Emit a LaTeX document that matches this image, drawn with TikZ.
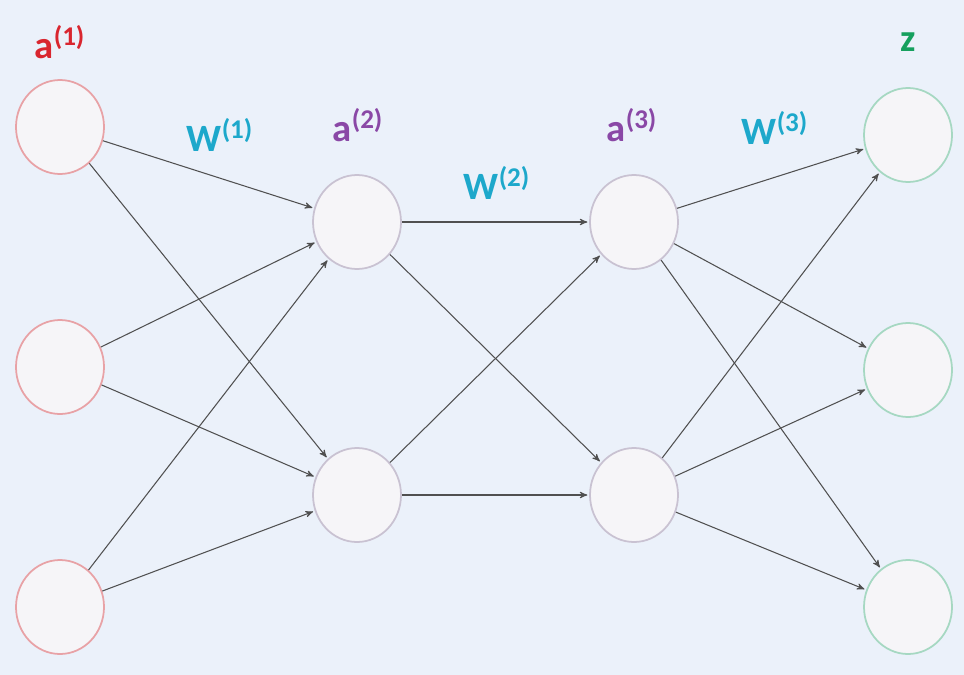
\documentclass[tikz,border=0pt]{standalone}
\usepackage{fontspec}
\setmainfont{Carlito}
\usepackage{tikz}
\usetikzlibrary{arrows,shapes.geometric}

\definecolor{bgblue}{HTML}{EBF1FA}
\definecolor{nodefill}{HTML}{F6F5F8}
\definecolor{inred}{HTML}{E8A2A6}
\definecolor{hidgray}{HTML}{C9C2D2}
\definecolor{outgreen}{HTML}{A6D8C2}
\definecolor{edgegray}{HTML}{505050}
\definecolor{lblred}{HTML}{D9262F}
\definecolor{lblcyan}{HTML}{1DA8CB}
\definecolor{lblpurple}{HTML}{8A48A6}
\definecolor{lblgreen}{HTML}{16A05E}

\begin{document}
\begin{tikzpicture}[
    % one unit is one pixel of the reference
    x=0.2mm, y=-0.2mm,
    % type of arrow head
    >=stealth',
    % keep arrow head from touching the surface
    shorten >= 1pt,
    neuron/.style = {ellipse, draw=#1, fill=nodefill, line width=1pt,
                     minimum width=17.6mm, minimum height=18.8mm, inner sep=0pt},
    line/.style = {->, draw=edgegray, line width=0.6pt},
    lbl/.style = {font=\fontsize{22}{26}\selectfont\bfseries, text=#1}
    ]

    % background
    \fill [bgblue] (0,0) rectangle (964,675);
    \useasboundingbox (0,0) rectangle (964,675);

    \coordinate (I1) at (60,127);
    \coordinate (I2) at (60,367);
    \coordinate (I3) at (60,607);

    \coordinate (H1) at (357,222);
    \coordinate (H2) at (357,495);

    \coordinate (K1) at (634,222);
    \coordinate (K2) at (634,495);

    \coordinate (O1) at (908,135);
    \coordinate (O2) at (908,370);
    \coordinate (O3) at (908,607);

    % nodes
    \node (In1) [neuron=inred] at (I1) {};
    \node (In2) [neuron=inred] at (I2) {};
    \node (In3) [neuron=inred] at (I3) {};

    \node (Hid1) [neuron=hidgray] at (H1) {};
    \node (Hid2) [neuron=hidgray] at (H2) {};

    \node (Kid1) [neuron=hidgray] at (K1) {};
    \node (Kid2) [neuron=hidgray] at (K2) {};

    \node (Out1) [neuron=outgreen] at (O1) {};
    \node (Out2) [neuron=outgreen] at (O2) {};
    \node (Out3) [neuron=outgreen] at (O3) {};

    % labels
    \node [lbl=lblred]    at (60,42)   {a\textsuperscript{(1)}};
    \node [lbl=lblcyan]   at (220,135) {W\textsuperscript{(1)}};
    \node [lbl=lblpurple] at (358,125) {a\textsuperscript{(2)}};
    \node [lbl=lblcyan]   at (497,183) {W\textsuperscript{(2)}};
    \node [lbl=lblpurple] at (632,125) {a\textsuperscript{(3)}};
    \node [lbl=lblcyan]   at (775,128) {W\textsuperscript{(3)}};
    \node [lbl=lblgreen]  at (908,42)  {z};

    % edges
    \path[line] (In1) -- (Hid1);
    \path[line] (In1) -- (Hid2);
    \path[line] (In2) -- (Hid1);
    \path[line] (In2) -- (Hid2);
    \path[line] (In3) -- (Hid1);
    \path[line] (In3) -- (Hid2);

    \path[line] (Hid1) -- (Kid1);
    \path[line] (Hid1) -- (Kid2);
    \path[line] (Hid2) -- (Kid1);
    \path[line] (Hid2) -- (Kid2);

    \path[line] (Kid1) -- (Out1);
    \path[line] (Kid1) -- (Out2);
    \path[line] (Kid1) -- (Out3);
    \path[line] (Kid2) -- (Out1);
    \path[line] (Kid2) -- (Out2);
    \path[line] (Kid2) -- (Out3);
\end{tikzpicture}
\end{document}
